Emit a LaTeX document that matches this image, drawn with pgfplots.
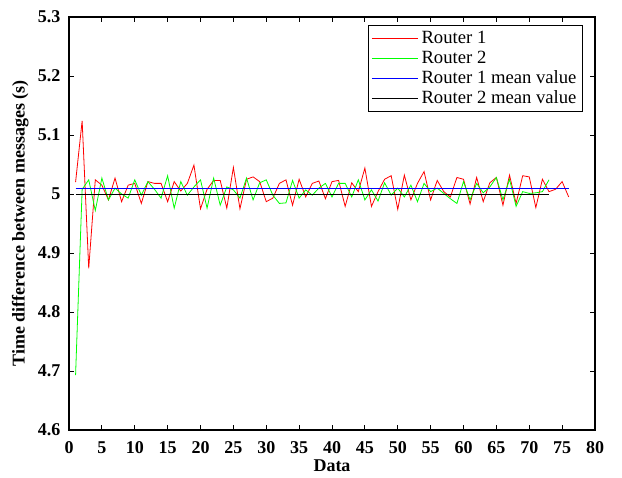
\documentclass[border=0pt]{standalone}
\usepackage{pgfplots}
\pgfplotsset{compat=1.18}
\usepackage{fontspec}
\setmainfont{Liberation Serif}

\pgfplotstableread{
x y
1 5.020
2 5.124
3 4.874
4 5.024
5 5.015
6 4.990
7 5.027
8 4.987
9 5.015
10 5.018
11 4.984
12 5.021
13 5.018
14 5.018
15 4.987
16 5.021
17 5.005
18 5.018
19 5.049
20 4.975
21 5.008
22 5.023
23 5.023
24 4.976
25 5.045
26 4.975
27 5.025
28 5.029
29 5.021
30 4.987
31 4.993
32 5.018
33 5.024
34 4.981
35 5.025
36 4.995
37 5.018
38 5.022
39 4.992
40 5.021
41 5.023
42 4.979
43 5.019
44 5.004
45 5.044
46 4.979
47 5.004
48 5.025
49 5.031
50 4.974
51 5.032
52 4.990
53 5.018
54 5.038
55 4.990
56 5.023
57 5.004
58 4.995
59 5.028
60 5.025
61 4.983
62 5.028
63 4.987
64 5.019
65 5.028
66 4.981
67 5.032
68 4.984
69 5.031
70 5.029
71 4.977
72 5.025
73 5.004
74 5.008
75 5.021
76 4.995
}\routerone

\pgfplotstableread{
x y
1 4.693
2 5.008
3 5.024
4 4.972
5 5.027
6 4.990
7 5.010
8 5.000
9 4.993
10 5.024
11 4.998
12 5.021
13 5.008
14 4.993
15 5.031
16 4.976
17 5.021
18 4.998
19 5.012
20 5.024
21 4.976
22 5.027
23 4.981
24 5.012
25 5.007
26 4.993
27 5.027
28 4.990
29 5.019
30 5.024
31 4.998
32 4.984
33 4.985
34 5.023
35 4.993
36 5.007
37 4.998
38 5.010
39 5.018
40 4.995
41 5.018
42 5.018
43 4.995
44 5.024
45 4.990
46 5.007
47 4.988
48 5.019
49 4.998
50 5.010
51 4.995
52 5.015
53 4.987
54 5.018
55 5.004
56 5.010
57 5.001
58 4.992
59 4.984
60 5.021
61 4.990
62 5.018
63 5.002
64 5.012
65 5.028
66 4.990
67 5.025
68 4.979
69 5.004
70 5.001
71 5.002
72 5.004
73 5.024
}\routertwo

\begin{document}
\begin{tikzpicture}
\begin{axis}[
    width=394.5pt, height=309.75pt,
    scale only axis,
    xmin=0, xmax=80, ymin=4.6, ymax=5.3,
    xtick={0,5,...,80},
    ytick={4.6,4.7,4.8,4.9,5.0,5.1,5.2,5.3},
    yticklabels={4.6,4.7,4.8,4.9,5,5.1,5.2,5.3},
    tick align=inside,
    major tick length=3.5pt,
    axis line style={line width=0.9pt},
    every tick/.style={black, line width=0.6pt},
    /pgf/number format/assume math mode=true,
    tick label style={font=\fontsize{13.5}{15}\selectfont\bfseries},
    xticklabel style={yshift=-5pt},
    yticklabel style={xshift=-3pt},
    label style={font=\fontsize{13.5}{15}\selectfont\bfseries},
    xlabel={Data},
    ylabel={Time difference between messages (s)},
    xlabel style={yshift=2pt},
    ylabel style={yshift=0pt},
    legend style={at={(0.977,0.981)}, anchor=north east,
        font=\fontsize{14}{16}\selectfont, draw=black, line width=0.6pt,
        inner sep=2.5pt, row sep=0pt,
        nodes={inner sep=2pt}},
    legend cell align=left,
    legend image code/.code={\draw[#1] (0pt,0pt) -- (35pt,0pt);},
]
\addplot[red, line width=0.6pt] table[x=x,y=y] {\routerone};
\addplot[green, line width=0.6pt] table[x=x,y=y] {\routertwo};
\addplot[blue, line width=0.6pt] coordinates {(1,5.009) (76,5.009)};
\addplot[black, line width=0.6pt] coordinates {(1,5.000) (73,5.000)};
\legend{Router 1, Router 2, Router 1 mean value, Router 2 mean value}
\coordinate (sw) at (rel axis cs:0,0);
\coordinate (ne) at (rel axis cs:1,1);
\end{axis}
\pgfresetboundingbox
\path[use as bounding box] ([xshift=-51.75pt,yshift=-35.25pt]sw) rectangle ([xshift=20.25pt,yshift=12.75pt]ne);
\end{tikzpicture}
\end{document}
